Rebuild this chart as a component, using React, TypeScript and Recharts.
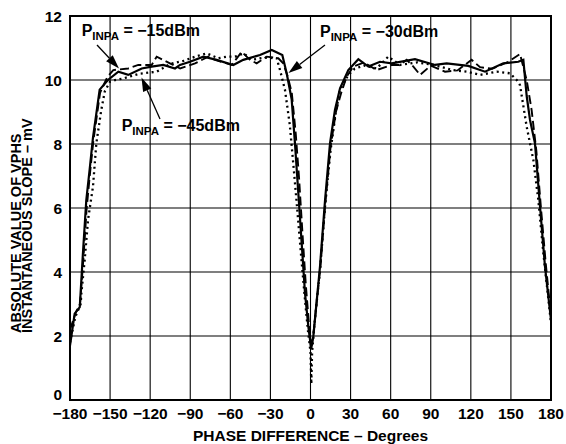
import React from "react";
import { LineChart, Line, XAxis, YAxis, CartesianGrid } from "recharts";

// ---------- data ----------
const PHASE_TICKS = [-180, -150, -120, -90, -60, -30, 0, 30, 60, 90, 120, 150, 180];
const SLOPE_TICKS = [0, 2, 4, 6, 8, 10, 12];

// P_INPA = -30dBm (solid)
const solidPhase = [-180, -176.5, -172.7, -170.3, -167.8, -165.3, -162.8, -157.8, -151.6, -143.8, -136.4, -126.3, -118.9, -110.2, -101.4, -97.7, -90.2, -80.2, -70.2, -57.8, -50.3, -37.8, -29, -21.1, -17.8, -14.1, -11.6, -9.1, -6.6, -4.1, -1.6, 0.5, 2.1, 7.1, 10.9, 14.6, 18.3, 22.1, 28.3, 35.8, 43.3, 52, 60.8, 78.2, 93.2, 101.9, 118.1, 130.6, 144.3, 155.5, 159.3, 161.8, 164.3, 168, 171.8, 175.5, 180];
const solidSlope = [1.7, 2.7, 2.9, 4.6, 6.25, 7.2, 8.2, 9.7, 10.0, 10.26, 10.16, 10.36, 10.42, 10.47, 10.36, 10.47, 10.57, 10.73, 10.63, 10.47, 10.63, 10.78, 10.94, 10.78, 10.2, 9.4, 8.0, 6.46, 4.9, 3.33, 2.29, 1.6, 1.98, 4.17, 6.25, 8.02, 9.06, 9.74, 10.31, 10.65, 10.42, 10.57, 10.52, 10.65, 10.47, 10.52, 10.44, 10.26, 10.52, 10.57, 10.63, 9.5, 8.75, 8.02, 6.04, 4.17, 2.5];

// P_INPA = -15dBm (dashed)
const dashedPhase = [-180, -175.5, -172.5, -170, -167.5, -165, -162.5, -157.5, -152, -147.6, -136.4, -128.9, -118.9, -115.1, -105.2, -97.6, -86.4, -76.5, -71.5, -59, -51.5, -45.3, -40.3, -32.8, -24.1, -20.4, -17, -14, -11, -8.5, -6, -3.5, -1, 0.5, 2.5, 7.5, 11, 15, 19, 23, 27, 32, 40, 49.5, 60.8, 67, 72, 77, 82, 90, 100.7, 110, 120.6, 126.9, 136, 148, 156.8, 161.8, 165.5, 169, 172.5, 176, 180];
const dashedSlope = [2.2, 2.75, 3.0, 4.4, 6.0, 7.1, 8.1, 9.6, 10.1, 10.31, 10.36, 10.47, 10.47, 10.73, 10.52, 10.36, 10.52, 10.73, 10.63, 10.47, 10.88, 10.63, 10.52, 10.73, 10.68, 10.52, 10.1, 9.6, 8.3, 6.9, 5.2, 3.6, 2.3, 1.6, 2.2, 4.2, 6.1, 7.9, 9.0, 9.6, 10.1, 10.42, 10.55, 10.31, 10.47, 10.47, 10.63, 10.42, 10.16, 10.45, 10.26, 10.3, 10.63, 10.4, 10.35, 10.57, 10.81, 10.0, 9.06, 7.8, 6.0, 4.3, 2.6];

// P_INPA = -45dBm (dotted)
const dottedPhase = [-180, -176, -172, -171.5, -169, -166.5, -162.8, -160.3, -156.6, -154, -150, -146.3, -140, -127.6, -121.4, -115.1, -105, -95, -85, -77.7, -69, -62.7, -56.5, -50, -44, -35, -25.3, -22.8, -19.1, -15.5, -12.5, -10, -7, -4.5, -2, 0, 0.6, 1.2, 3, 7, 11, 15, 19, 22, 28.3, 33, 40, 49.5, 58.2, 67, 80, 91.9, 106.9, 116.9, 126.9, 139.4, 149.3, 154.3, 156.8, 161.8, 166.8, 170.5, 174.3, 180];
const dottedSlope = [1.8, 2.6, 3.0, 3.33, 4.38, 5.63, 6.67, 8.02, 9.06, 9.64, 9.95, 10.0, 10.05, 10.2, 10.23, 10.26, 10.5, 10.6, 10.75, 10.83, 10.68, 10.73, 10.73, 10.83, 10.63, 10.7, 10.68, 10.31, 9.69, 8.6, 7.2, 6.0, 4.5, 3.3, 2.2, 1.5, 0.5, 1.5, 2.4, 4.0, 6.1, 7.8, 9.0, 9.69, 10.16, 10.35, 10.45, 10.36, 10.73, 10.47, 10.55, 10.47, 10.31, 10.26, 10.16, 10.26, 10.21, 10.0, 9.84, 8.54, 7.5, 6.25, 4.58, 2.4];

const zip = (xs: number[], ys: number[]) => xs.map((x, i) => ({ x, y: ys[i] }));
const solidData = zip(solidPhase, solidSlope);
const dashedData = zip(dashedPhase, dashedSlope);
const dottedData = zip(dottedPhase, dottedSlope);

const FONT = "'Liberation Sans', Arial, Helvetica, sans-serif";
const minus = (v: number) => String(v).replace("-", "\u2212");

function YTick(props: any) {
  const { x, y, payload } = props;
  const lift = payload.value === 0 ? -6 : 0;
  return (
    <text x={x} y={y + lift} dy="0.355em" textAnchor="end" fontFamily={FONT} fontWeight="bold" fontSize={15.5} fill="#000">
      {payload.value}
    </text>
  );
}

function Arrow({ x1, y1, x2, y2 }: { x1: number; y1: number; x2: number; y2: number }) {
  const dx = x2 - x1;
  const dy = y2 - y1;
  const len = Math.sqrt(dx * dx + dy * dy);
  const ux = dx / len;
  const uy = dy / len;
  const hl = 14;
  const hw = 4.5;
  const bx = x2 - ux * hl;
  const by = y2 - uy * hl;
  const pts = `${x2},${y2} ${bx - uy * hw},${by + ux * hw} ${bx + uy * hw},${by - ux * hw}`;
  return (
    <g>
      <line x1={x1} y1={y1} x2={bx} y2={by} stroke="#000" strokeWidth={1.3} />
      <polygon points={pts} fill="#000" />
    </g>
  );
}

function PLabel({ x, y, value }: { x: number; y: number; value: string }) {
  return (
    <text x={x} y={y} fontFamily={FONT} fontWeight="bold" fontSize={16} fill="#000">
      <tspan>P</tspan>
      <tspan dy={4} fontSize={11.5}>INPA</tspan>
      <tspan dy={-4}>{` = ${value}`}</tspan>
    </text>
  );
}

export default function App() {
  return (
    <div style={{ position: "absolute", left: 0, top: 0, width: 566, height: 444, background: "#fff" }}>
      <LineChart width={566} height={444} margin={{ top: 16, right: 15, left: 0, bottom: 0 }}>
        <CartesianGrid stroke="#000" strokeWidth={1.1} />
        <XAxis
          dataKey="x"
          type="number"
          domain={[-180, 180]}
          ticks={PHASE_TICKS}
          interval={0}
          height={44}
          tickLine={false}
          axisLine={false}
          tickFormatter={minus}
          tick={{ fontSize: 15.5, fontWeight: "bold", fill: "#000", fontFamily: FONT }}
          allowDataOverflow
        />
        <YAxis
          type="number"
          domain={[0, 12]}
          ticks={SLOPE_TICKS}
          interval={0}
          width={70}
          tickLine={false}
          axisLine={false}
          tick={<YTick />}
        />
        <Line data={dottedData} dataKey="y" type="linear" stroke="#000" strokeWidth={2.3} strokeDasharray="2 3.5" dot={false} isAnimationActive={false} />
        <Line data={dashedData} dataKey="y" type="linear" stroke="#000" strokeWidth={1.9} strokeDasharray="9 4" dot={false} isAnimationActive={false} />
        <Line data={solidData} dataKey="y" type="linear" stroke="#000" strokeWidth={2.2} dot={false} isAnimationActive={false} />
      </LineChart>
      <svg width={566} height={444} style={{ position: "absolute", left: 0, top: 0, pointerEvents: "none" }}>
        <rect x={70} y={16} width={481} height={384} fill="none" stroke="#000" strokeWidth={2} />
        <PLabel x={81.7} y={35.5} value={"\u221215dBm"} />
        <PLabel x={121.7} y={130.5} value={"\u221245dBm"} />
        <PLabel x={320} y={36.5} value={"\u221230dBm"} />
        <Arrow x1={97} y1={45} x2={119} y2={68.5} />
        <Arrow x1={160} y1={119} x2={141.5} y2={77.5} />
        <Arrow x1={325} y1={45} x2={288.5} y2={73} />
        <text x={310.5} y={440.5} textAnchor="middle" fontFamily={FONT} fontWeight="bold" fontSize={15.5} fill="#000">
          PHASE DIFFERENCE – Degrees
        </text>
        <text transform="translate(20.7,333) rotate(-90)" fontFamily={FONT} fontWeight="bold" fontSize={14.5} fill="#000">
          ABSOLUTE VALUE OF VPHS
        </text>
        <text transform="translate(32.3,333) rotate(-90)" fontFamily={FONT} fontWeight="bold" fontSize={14.5} fill="#000">
          INSTANTANEOUS SLOPE – mV
        </text>
      </svg>
    </div>
  );
}
